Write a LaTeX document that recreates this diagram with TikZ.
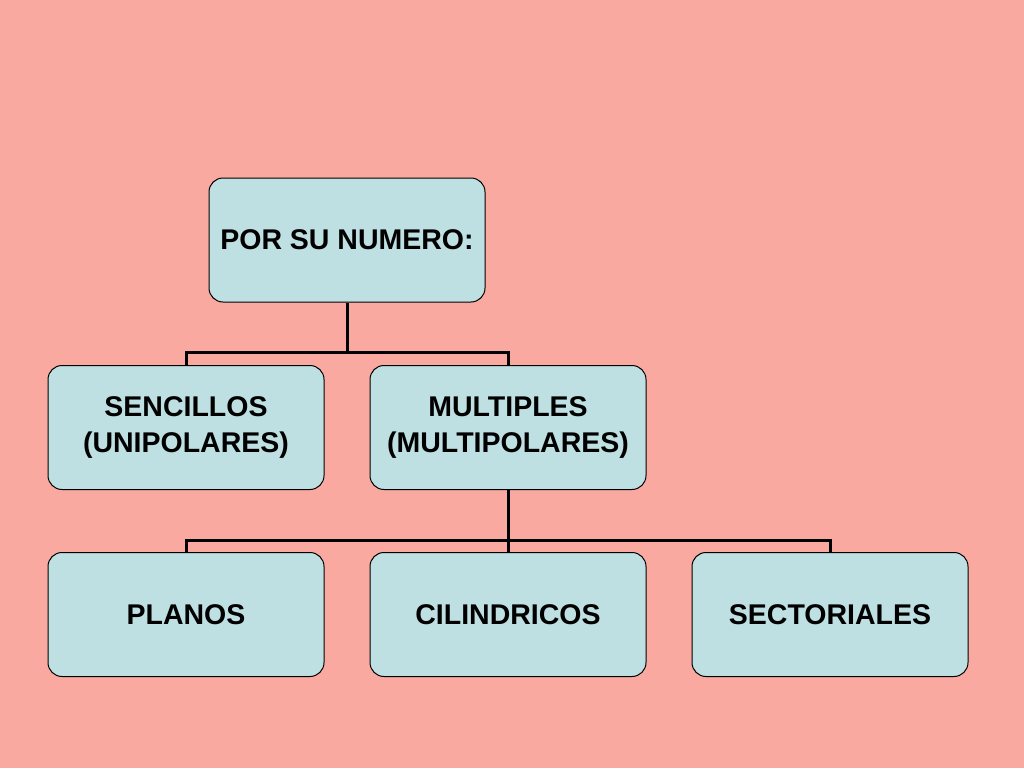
\documentclass[tikz,border=0pt]{standalone}
\usepackage{fontspec}
\setmainfont{Liberation Sans}
\begin{document}
\begin{tikzpicture}[x=1pt,y=-1pt,
  box/.style={draw=black,line width=1pt,fill=boxc,rounded corners=14pt,minimum width=276pt,minimum height=124pt,align=center,font=\fontsize{28.5}{36}\selectfont\bfseries,inner sep=0pt},
  conn/.style={line width=3pt}]
\definecolor{bg}{HTML}{F9A9A0}
\definecolor{boxc}{HTML}{BEE0E2}
\fill[bg] (0,0) rectangle (1024,768);
\node[box] (top) at (347,240) {POR SU NUMERO:};
\node[box] (sen) at (186,427.5) {SENCILLOS\\(UNIPOLARES)};
\node[box] (mul) at (508,427.5) {MULTIPLES\\(MULTIPOLARES)};
\node[box] (pla) at (186,614.5) {PLANOS};
\node[box] (cil) at (508,614.5) {CILINDRICOS};
\node[box] (sec) at (830,614.5) {SECTORIALES};
\draw[conn] (top.south) -- ++(0,50) -| (sen.north);
\draw[conn] (top.south) ++(0,50) -| (mul.north);
\draw[conn] (mul.south) -- ++(0,50) -| (pla.north);
\draw[conn] (mul.south) -- (cil.north);
\draw[conn] (mul.south) ++(0,50) -| (sec.north);
\end{tikzpicture}
\end{document}
